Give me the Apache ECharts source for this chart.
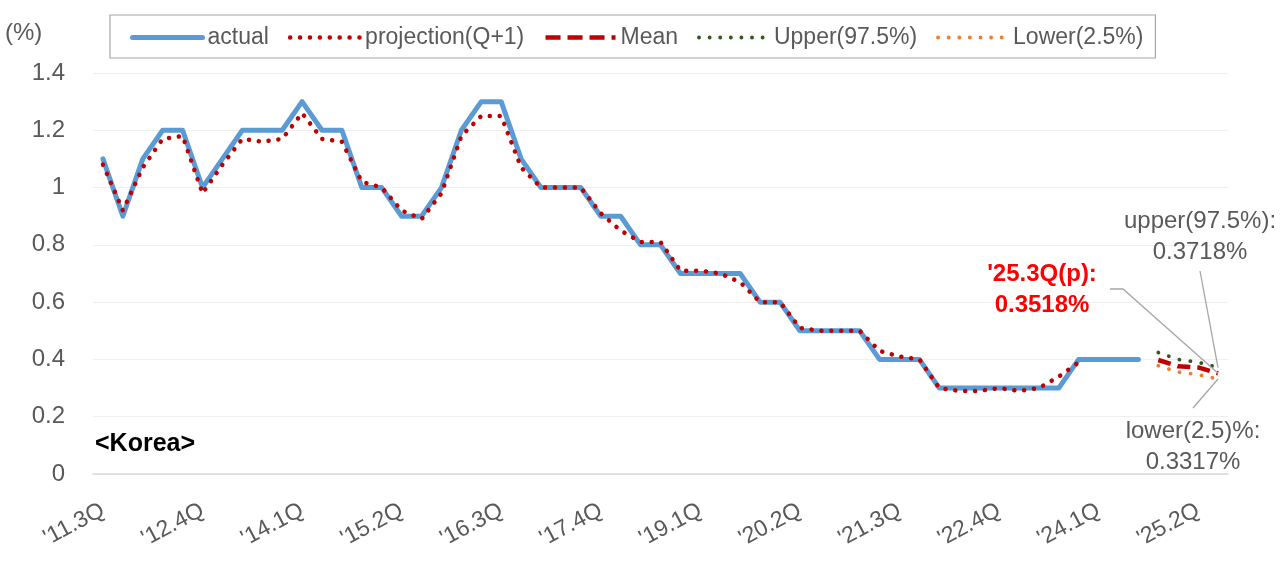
<!DOCTYPE html>
<html>
<head>
<meta charset="utf-8">
<script src="https://cdn.jsdelivr.net/npm/echarts@6/dist/echarts.min.js"></script>
<style>
  html, body { margin: 0; padding: 0; background: #fff; }
  #chart { width: 1280px; height: 567px; }
</style>
</head>
<body>
<div id="chart"></div>
<script>
const categories = [
  "'11.3Q", "'11.4Q",
  "'12.1Q", "'12.2Q", "'12.3Q", "'12.4Q",
  "'13.1Q", "'13.2Q", "'13.3Q", "'13.4Q",
  "'14.1Q", "'14.2Q", "'14.3Q", "'14.4Q",
  "'15.1Q", "'15.2Q", "'15.3Q", "'15.4Q",
  "'16.1Q", "'16.2Q", "'16.3Q", "'16.4Q",
  "'17.1Q", "'17.2Q", "'17.3Q", "'17.4Q",
  "'18.1Q", "'18.2Q", "'18.3Q", "'18.4Q",
  "'19.1Q", "'19.2Q", "'19.3Q", "'19.4Q",
  "'20.1Q", "'20.2Q", "'20.3Q", "'20.4Q",
  "'21.1Q", "'21.2Q", "'21.3Q", "'21.4Q",
  "'22.1Q", "'22.2Q", "'22.3Q", "'22.4Q",
  "'23.1Q", "'23.2Q", "'23.3Q", "'23.4Q",
  "'24.1Q", "'24.2Q", "'24.3Q", "'24.4Q",
  "'25.1Q", "'25.2Q", "'25.3Q"
];

const actual = [
  1.1, 0.9, 1.1, 1.2, 1.2, 1.0, 1.1, 1.2, 1.2, 1.2, 1.3, 1.2, 1.2,
  1.0, 1.0, 0.9, 0.9, 1.0, 1.2, 1.3, 1.3, 1.1, 1.0, 1.0, 1.0,
  0.9, 0.9, 0.8, 0.8, 0.7, 0.7, 0.7, 0.7, 0.6, 0.6,
  0.5, 0.5, 0.5, 0.5, 0.4, 0.4, 0.4,
  0.3, 0.3, 0.3, 0.3, 0.3, 0.3, 0.3,
  0.4, 0.4, 0.4, 0.4
];

const projection = [
  1.08, 0.92, 1.07, 1.17, 1.18, 0.98, 1.08, 1.17, 1.16, 1.17, 1.26, 1.17, 1.16,
  1.02, 1.0, 0.92, 0.89, 0.98, 1.18, 1.25, 1.25, 1.07, 1.0, 1.0, 1.0,
  0.91, 0.85, 0.81, 0.81, 0.71, 0.71, 0.70, 0.67, 0.60, 0.60,
  0.51, 0.50, 0.50, 0.50, 0.43, 0.41, 0.40,
  0.30, 0.29, 0.29, 0.30, 0.29, 0.30, 0.34, 0.39
];

// forecast quarters '24.4Q .. '25.3Q
const forecastCats = ["'24.4Q", "'25.1Q", "'25.2Q", "'25.3Q"];
const meanVals  = [0.398, 0.376, 0.372, 0.3518];
const upperVals = [0.424, 0.400, 0.390, 0.3718];
const lowerVals = [0.378, 0.356, 0.347, 0.3317];

const yTicks = { min: 0, max: 1.4, interval: 0.2 };

const FONT = "'Liberation Sans', Arial, sans-serif";
const GRAY_TEXT = '#595959';

function pairs(cats, vals) { return cats.map((c, i) => [c, vals[i]]); }

const chart = echarts.init(document.getElementById('chart'), null, { renderer: 'canvas' });

const hiddenSymbol = { opacity: 0, color: 'rgba(0,0,0,0)', borderWidth: 0 };
const legendItems = [
  { name: 'actual', itemStyle: hiddenSymbol, lineStyle: { width: 5, type: 'solid', color: '#5B9BD5' } },
  { name: 'projection(Q+1)', itemStyle: hiddenSymbol, lineStyle: { width: 4.5, type: [0.1, 9.8], cap: 'round', color: '#C00000' } },
  { name: 'Mean', itemStyle: hiddenSymbol, lineStyle: { width: 4.5, type: [15, 7], color: '#C00000' } },
  { name: 'Upper(97.5%)', itemStyle: hiddenSymbol, lineStyle: { width: 3.8, type: [0.1, 10.5], cap: 'round', color: '#375623' } },
  { name: 'Lower(2.5%)', itemStyle: hiddenSymbol, lineStyle: { width: 3.8, type: [0.1, 10.5], cap: 'round', color: '#ED7D31' } }
];

const option = {
  animation: false,
  backgroundColor: '#fff',
  textStyle: { fontFamily: FONT },
  legend: {
    left: 110,
    top: 15,
    padding: [11, 12, 9, 20],
    borderColor: '#a6a6a6',
    borderWidth: 1.2,
    itemWidth: 70,
    itemHeight: 14,
    itemGap: 19,
    textStyle: { fontSize: 23, color: GRAY_TEXT, fontFamily: FONT },
    data: legendItems
  },
  grid: { left: 93, right: 52, top: 73, bottom: 93, containLabel: false },
  xAxis: {
    type: 'category',
    data: categories,
    boundaryGap: true,
    axisLine: { show: true, lineStyle: { color: '#d9d9d9', width: 1.5 } },
    axisTick: { show: false },
    axisLabel: {
      interval: 4,
      rotate: 28,
      margin: 35,
      fontSize: 23,
      color: GRAY_TEXT,
      fontFamily: FONT
    },
    splitLine: { show: false }
  },
  yAxis: {
    type: 'value',
    min: yTicks.min,
    max: yTicks.max,
    interval: yTicks.interval,
    axisLine: { show: false },
    axisTick: { show: false },
    axisLabel: { fontSize: 24, color: GRAY_TEXT, margin: 28, fontFamily: FONT },
    splitLine: { show: true, lineStyle: { color: '#efefef', width: 1.2 } }
  },
  series: [
    {
      name: 'actual', type: 'line', data: actual, symbol: 'none',
      lineStyle: { width: 5, color: '#5B9BD5', join: 'round', cap: 'round' },
      itemStyle: { color: '#5B9BD5' }, z: 2
    },
    {
      name: 'projection(Q+1)', type: 'line', data: projection, symbol: 'none',
      lineStyle: { width: 4.5, color: '#C00000', type: [0.1, 9.8], cap: 'round', join: 'round' },
      itemStyle: { color: '#C00000' }, z: 3
    },
    {
      name: 'Mean', type: 'line', data: pairs(forecastCats, meanVals), symbol: 'none',
      lineStyle: { width: 4.5, color: '#C00000', type: [13, 7] },
      itemStyle: { color: '#C00000' }, z: 4
    },
    {
      name: 'Upper(97.5%)', type: 'line', data: pairs(forecastCats, upperVals), symbol: 'none',
      lineStyle: { width: 3.8, color: '#375623', type: [0.1, 11], cap: 'round' },
      itemStyle: { color: '#375623' }, z: 3
    },
    {
      name: 'Lower(2.5%)', type: 'line', data: pairs(forecastCats, lowerVals), symbol: 'none',
      lineStyle: { width: 3.8, color: '#ED7D31', type: [0.1, 11], cap: 'round' },
      itemStyle: { color: '#ED7D31' }, z: 3
    }
  ]
};

chart.setOption(option);

// annotations anchored to the last forecast points
const lastCat = forecastCats[forecastCats.length - 1];
const pMean  = chart.convertToPixel({ xAxisIndex: 0, yAxisIndex: 0 }, [lastCat, meanVals[meanVals.length - 1]]);
const pUpper = chart.convertToPixel({ xAxisIndex: 0, yAxisIndex: 0 }, [lastCat, upperVals[upperVals.length - 1]]);
const pLower = chart.convertToPixel({ xAxisIndex: 0, yAxisIndex: 0 }, [lastCat, lowerVals[lowerVals.length - 1]]);

const leader = { stroke: '#a6a6a6', lineWidth: 1.3, fill: null };

chart.setOption({
  graphic: [
    { type: 'text', left: 5, top: 21, style: { text: '(%)', font: "24px " + FONT, fill: GRAY_TEXT } },
    { type: 'text', left: 95, top: 432, style: { text: '<Korea>', font: "bold 25px " + FONT, fill: '#000' } },
    { type: 'polyline', shape: { points: [[1110, 289], [1123, 289], pMean] }, style: leader, z: 10 },
    { type: 'polyline', shape: { points: [[1200, 271], pUpper] }, style: leader, z: 10 },
    { type: 'polyline', shape: { points: [[1193, 408], pLower] }, style: leader, z: 10 },
    { type: 'text', x: 1042, y: 290, style: {
        text: "'25.3Q(p):\n0.3518%", font: "bold 24px " + FONT, fill: '#FF0000',
        textAlign: 'center', textVerticalAlign: 'middle', lineHeight: 31 } },
    { type: 'text', x: 1200, y: 237, style: {
        text: 'upper(97.5%):\n0.3718%', font: "24px " + FONT, fill: GRAY_TEXT,
        textAlign: 'center', textVerticalAlign: 'middle', lineHeight: 31 } },
    { type: 'text', x: 1193, y: 447, style: {
        text: 'lower(2.5)%:\n0.3317%', font: "24px " + FONT, fill: GRAY_TEXT,
        textAlign: 'center', textVerticalAlign: 'middle', lineHeight: 31 } }
  ]
});
</script>
</body>
</html>
